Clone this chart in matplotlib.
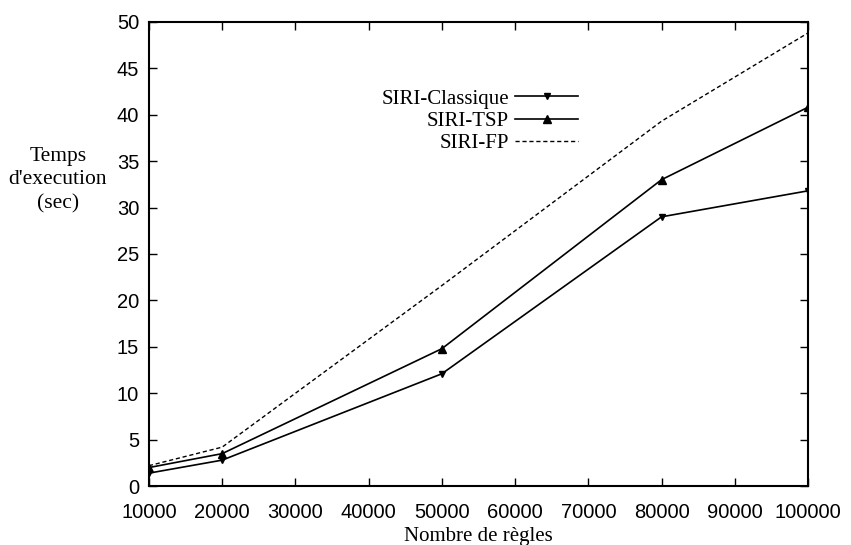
import matplotlib
matplotlib.use("Agg")
import matplotlib.pyplot as plt

x = [10000, 20000, 50000, 80000, 100000]
classique = [1.4, 2.8, 12.1, 29.0, 31.8]
tsp = [2.0, 3.5, 14.8, 33.0, 40.8]
fp = [2.2, 4.2, 21.6, 39.3, 48.8]
xticks = [10000, 20000, 30000, 40000, 50000, 60000, 70000, 80000, 90000, 100000]
yticks = [0, 5, 10, 15, 20, 25, 30, 35, 40, 45, 50]

fig = plt.figure(figsize=(8.51, 5.45), dpi=100)
ax = fig.add_axes([0.175, 0.108, 0.7745, 0.852])

ax.plot(x, classique, color="black", lw=1.2, marker="v", ms=4.5, label="SIRI-Classique")
ax.plot(x, tsp, color="black", lw=1.2, marker="^", ms=5.5, label="SIRI-TSP")
ax.plot(x, fp, color="black", lw=1.0, ls=(0, (3, 2)), label="SIRI-FP")

ax.set_xlim(10000, 100000)
ax.set_ylim(0, 50)
ax.set_xticks(xticks)
ax.set_yticks(yticks)
ax.tick_params(direction="in", top=True, right=True, length=6, width=1,
               labelsize=14.5)
ax.tick_params(axis="x", pad=12)
ax.tick_params(axis="y", pad=7)
for lab in ax.get_xticklabels() + ax.get_yticklabels():
    lab.set_fontfamily("Liberation Sans")
for s in ax.spines.values():
    s.set_linewidth(1.5)

ax.set_xlabel("Nombre de règles", fontfamily="Liberation Serif", fontsize=15, labelpad=4)
ax.text(-0.138, 0.659, "Temps\nd'execution\n(sec)", transform=ax.transAxes,
        ha="center", va="center", fontfamily="Liberation Serif", fontsize=15.5,
        linespacing=1.3)

leg = ax.legend(loc="upper right", bbox_to_anchor=(0.651, 0.855), frameon=False,
                markerfirst=False, prop={"family": "Liberation Serif", "size": 15},
                handlelength=3.0, handletextpad=0.3, labelspacing=0.12,
                borderpad=0, borderaxespad=0)
for t in leg.get_texts():
    t.set_ha("right")

fig.savefig("out.png", dpi=100)
